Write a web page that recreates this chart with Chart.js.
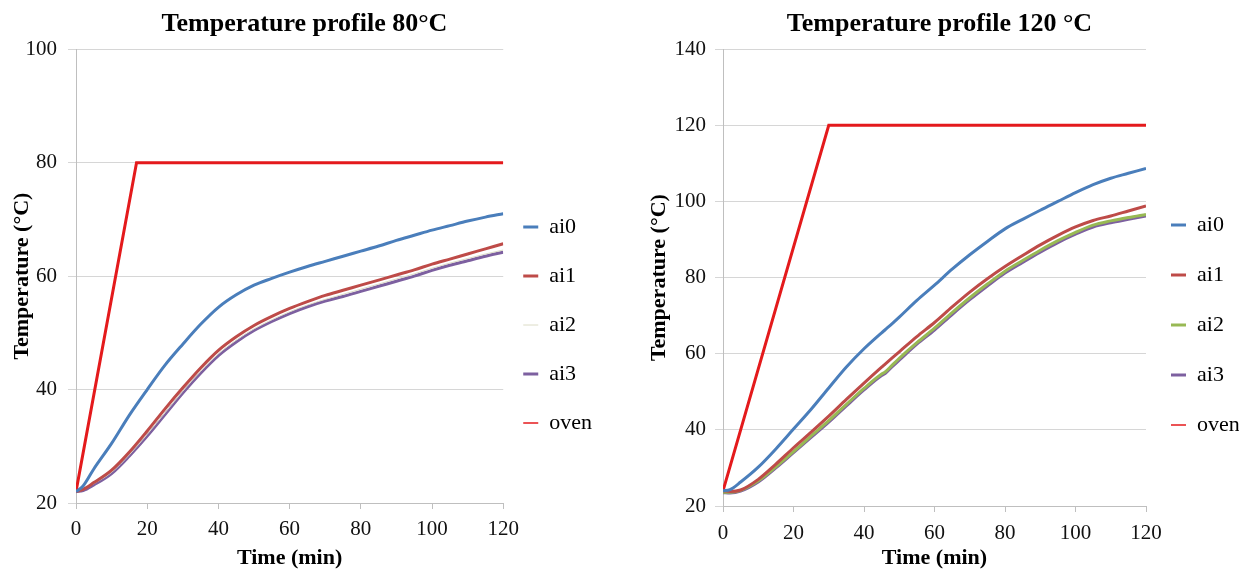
<!DOCTYPE html>
<html>
<head>
<meta charset="utf-8">
<script src="https://cdn.jsdelivr.net/npm/chart.js@4.4.1/dist/chart.umd.min.js"></script>
<style>
  html, body { margin: 0; padding: 0; background: #fff; }
  #wrap { position: relative; width: 1242px; height: 572px; }
  canvas { position: absolute; top: 0; }
</style>
</head>
<body>
<div id="wrap">
  <canvas id="chart80" width="621" height="572" style="left:0"></canvas>
  <canvas id="chart120" width="621" height="572" style="left:621px"></canvas>
</div>
<script>
// Dados (tempo em min, temperatura em °C)
const SERIES_NAMES = ['ai0', 'ai1', 'ai2', 'ai3', 'oven'];
const xTicks = [0, 20, 40, 60, 80, 100, 120];

// Perfil 80°C
const time80 = [0, 2, 5, 10, 15, 20, 25, 30, 35, 40, 45, 50, 55, 60, 65, 70, 75, 80, 85, 90, 95, 100, 105, 110, 115, 120];
const ai0_80 = [22, 23, 26, 30.5, 35.5, 40, 44.3, 48, 51.5, 54.5, 56.7, 58.4, 59.6, 60.7, 61.7, 62.6, 63.5, 64.4, 65.3, 66.3, 67.2, 68.1, 68.9, 69.7, 70.4, 71.0];
const ai1_80 = [22, 22.4, 23.6, 25.8, 29, 32.7, 36.6, 40.3, 43.8, 46.9, 49.3, 51.3, 52.9, 54.3, 55.5, 56.6, 57.5, 58.4, 59.3, 60.2, 61.1, 62.1, 63, 63.9, 64.8, 65.7];
const ai2_80 = [22, 22.3, 23.4, 25.4, 28.5, 32.1, 35.9, 39.7, 43.2, 46.3, 48.7, 50.7, 52.3, 53.7, 54.9, 55.9, 56.8, 57.7, 58.6, 59.5, 60.4, 61.4, 62.3, 63.1, 63.9, 64.6];
const ai3_80 = [22, 22.2, 23.2, 25.2, 28.3, 31.8, 35.6, 39.4, 42.9, 46.0, 48.4, 50.4, 52.0, 53.4, 54.6, 55.6, 56.4, 57.3, 58.2, 59.1, 60.0, 61.0, 61.9, 62.7, 63.5, 64.2];
const ovenTime80 = [0, 17, 120];
const oven80 = [22, 80, 80];
const yTicks80 = [20, 40, 60, 80, 100];

// Perfil 120°C
const time120 = [0, 2, 5, 10, 15, 20, 25, 30, 35, 40, 45, 46, 48, 50, 55, 60, 65, 70, 75, 80, 85, 90, 95, 100, 105, 110, 115, 120];
const ai0_120 = [24, 24.3, 26.3, 30.2, 35, 40.2, 45.4, 51, 56.5, 61.3, 65.5, 66.3, 67.9, 69.6, 74, 78, 82.2, 86, 89.5, 92.8, 95.3, 97.7, 100, 102.3, 104.4, 106.1, 107.4, 108.7];
const ai1_120 = [24, 23.8, 24.2, 27, 31, 35.3, 39.4, 43.6, 48, 52.3, 56.5, 57.3, 58.9, 60.5, 64.5, 68.2, 72.3, 76.2, 79.7, 82.9, 85.8, 88.6, 91.1, 93.3, 95.0, 96.2, 97.5, 98.8];
const ai2_120 = [23.6, 23.6, 24.1, 26.6, 30.3, 34.3, 38.4, 42.4, 46.7, 50.9, 54.7, 55.2, 57.0, 58.8, 62.9, 66.7, 70.8, 74.7, 78.3, 81.7, 84.5, 87.2, 89.7, 91.9, 93.8, 94.9, 95.8, 96.6];
const ai3_120 = [23.5, 23.4, 23.9, 26.3, 30, 34, 38, 42, 46.3, 50.5, 54.3, 54.8, 56.6, 58.3, 62.5, 66.2, 70.3, 74.2, 77.8, 81.2, 84, 86.7, 89.2, 91.4, 93.3, 94.4, 95.3, 96.2];
const ovenTime120 = [0, 30, 120];
const oven120 = [24, 120, 120];
const yTicks120 = [20, 40, 60, 80, 100, 120, 140];

const COLORS = ['#4A7EBB', '#BE4B48', '#98B954', '#7D60A0', '#E41A1C'];
const SERIF = "'Liberation Serif', 'Times New Roman', serif";

// desloca a legenda (posição fixa como no Excel)
const legendShift = {
  id: 'legendShift',
  afterLayout(chart, args, opts) {
    const lg = chart.legend;
    if (!lg) return;
    lg.left += opts.dx; lg.right += opts.dx;
    lg.top += opts.dy; lg.bottom += opts.dy;
  }
};

function toPoints(xs, ys) {
  return xs.map((x, i) => ({ x: x, y: ys[i] }));
}

function montarDatasets(time, series, ovenTime, oven, ai2Width, ai2Color) {
  const ds = series.map((vals, i) => ({
    label: SERIES_NAMES[i],
    data: toPoints(time, vals),
    borderColor: i === 2 ? ai2Color : COLORS[i],
    backgroundColor: i === 2 ? ai2Color : COLORS[i],
    borderWidth: i === 2 ? ai2Width : 3,
    pointRadius: 0,
    cubicInterpolationMode: 'monotone',
    fill: false
  }));
  ds.push({
    label: 'oven',
    data: toPoints(ovenTime, oven),
    borderColor: COLORS[4],
    backgroundColor: COLORS[4],
    borderWidth: 3,
    pointRadius: 0,
    tension: 0,
    fill: false
  });
  return ds;
}

function criarGrafico(id, cfg) {
  const ctx = document.getElementById(id).getContext('2d');
  const yT = cfg.yTicks;
  new Chart(ctx, {
    type: 'line',
    data: { datasets: cfg.datasets },
    plugins: [legendShift],
    options: {
      responsive: false,
      animation: false,
      layout: { padding: cfg.layoutPadding },
      plugins: {
        title: {
          display: true,
          text: cfg.title,
          color: '#000',
          font: { family: SERIF, size: 26, weight: 'bold' },
          padding: { top: 9, bottom: 9 }
        },
        legend: {
          display: true,
          position: 'right',
          align: 'start',
          maxWidth: cfg.legendMaxWidth,
          labels: {
            color: '#000',
            font: { family: SERIF, size: 22 },
            usePointStyle: true,
            pointStyle: 'line',
            pointStyleWidth: 15,
            padding: cfg.legendPadding,
            generateLabels(chart) {
              const items = Chart.defaults.plugins.legend.labels.generateLabels(chart);
              items.forEach(it => { it.pointStyle = 'line'; if (it.text === 'oven') it.lineWidth = 1.5; });
              return items;
            }
          }
        },
        legendShift: cfg.shift,
        tooltip: { enabled: false }
      },
      scales: {
        x: {
          type: 'linear',
          min: xTicks[0],
          max: xTicks[xTicks.length - 1],
          afterFit: s => { s.height = cfg.xHeight; },
          ticks: { stepSize: xTicks[1] - xTicks[0], color: '#111', padding: cfg.xTickPad, font: { family: SERIF, size: 21 } },
          grid: { drawOnChartArea: false, drawTicks: true, tickLength: 6, color: '#bfbfbf' },
          border: { display: true, color: '#bfbfbf' },
          title: { display: true, text: 'Time (min)', color: '#000', font: { family: SERIF, size: 22, weight: 'bold' }, padding: { top: 0, bottom: 0 } }
        },
        y: {
          min: yT[0],
          max: yT[yT.length - 1],
          afterFit: s => { s.width = cfg.yWidth; },
          ticks: { stepSize: yT[1] - yT[0], color: '#111', padding: cfg.yTickPad, font: { family: SERIF, size: 21 } },
          grid: { color: '#d6d6d6', drawTicks: true, tickLength: 8 },
          border: { display: true, color: '#bfbfbf' },
          title: { display: true, text: 'Temperature (°C)', color: '#000', font: { family: SERIF, size: 22, weight: 'bold' }, padding: { top: cfg.yTitlePad, bottom: 0 } }
        }
      }
    }
  });
}

criarGrafico('chart80', {
  title: 'Temperature profile 80°C',
  datasets: montarDatasets(time80, [ai0_80, ai1_80, ai2_80, ai3_80], ovenTime80, oven80, 1, '#dcdcc6'),
  yTicks: yTicks80,
  layoutPadding: { left: 0, right: 12, top: 0, bottom: 0 },
  legendPadding: 27,
  legendMaxWidth: undefined,
  shift: { dx: -7, dy: 189 },
  xHeight: 69,
  yWidth: 76,
  xTickPad: 8,
  yTickPad: 11,
  yTitlePad: 9
});

criarGrafico('chart120', {
  title: 'Temperature profile 120 °C',
  datasets: montarDatasets(time120, [ai0_120, ai1_120, ai2_120, ai3_120], ovenTime120, oven120, 3, '#98B954'),
  yTicks: yTicks120,
  layoutPadding: { left: 16, right: 0, top: 0, bottom: 0 },
  legendPadding: 28,
  legendMaxWidth: 96,
  shift: { dx: -3, dy: 186 },
  xHeight: 66,
  yWidth: 86,
  xTickPad: 9,
  yTickPad: 9,
  yTitlePad: 9
});
</script>
</body>
</html>
